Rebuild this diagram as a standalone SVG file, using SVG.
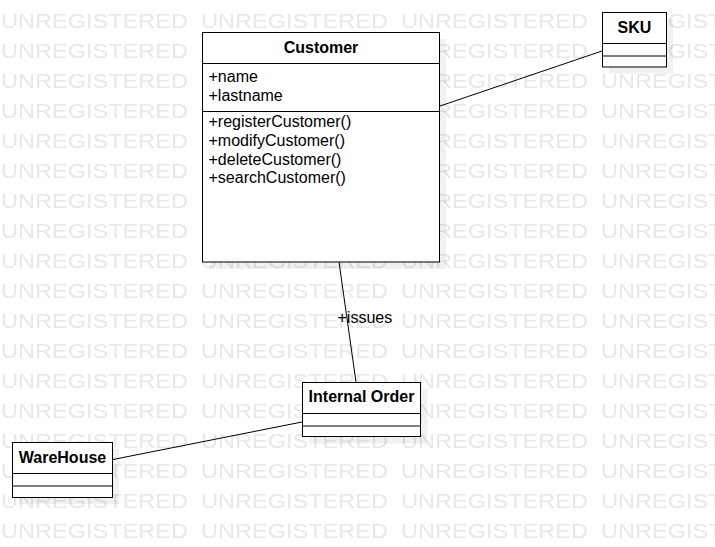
<svg xmlns="http://www.w3.org/2000/svg" width="715" height="547" viewBox="0 0 715 547">
<style>
.wm{font-family:"Liberation Sans",Arial,sans-serif;font-size:20.5px;fill:#e8e8e8}
.box{fill:#fff;stroke:#000;stroke-width:1}
.shadow{fill:#000;fill-opacity:0.055}
.div{stroke:#000;stroke-width:1}
.title{font-family:"Liberation Sans",Arial,sans-serif;font-size:16px;font-weight:bold;fill:#000;text-anchor:middle}
.mem{font-family:"Liberation Sans",Arial,sans-serif;font-size:16px;fill:#000}
.conn{stroke:#000;stroke-width:1;fill:none}
</style>
<defs>
<pattern id="wmPat" patternUnits="userSpaceOnUse" x="0" y="0" width="200" height="30">
<text class="wm" x="1" y="27.5" textLength="187" lengthAdjust="spacingAndGlyphs">UNREGISTERED</text>
</pattern>
</defs>
<rect width="715" height="547" fill="#fff"/>
<g id="watermark">
<rect width="715" height="547" fill="url(#wmPat)"/>
</g>
<g id="connectors">
<line class="conn" x1="440" y1="106" x2="602" y2="51"/>
<line class="conn" x1="339" y1="262" x2="356" y2="382"/>
<line class="conn" x1="113" y1="459.5" x2="302" y2="422"/>
<text class="mem" x="337.5" y="322.7">+issues</text>
</g>
<g id="customer">
<rect class="shadow" x="209" y="39" width="237" height="230"/>
<rect class="box" x="202.5" y="32.5" width="237" height="229.5"/>
<line class="div" x1="202.5" y1="63.5" x2="439.5" y2="63.5"/>
<line class="div" x1="202.5" y1="111.5" x2="439.5" y2="111.5"/>
<text class="title" x="321" y="53.3">Customer</text>
<text class="mem" x="208.5" y="82.3">+name</text>
<text class="mem" x="208.5" y="101">+lastname</text>
<text class="mem" x="208.5" y="127.3">+registerCustomer()</text>
<text class="mem" x="208.5" y="146">+modifyCustomer()</text>
<text class="mem" x="208.5" y="164.7">+deleteCustomer()</text>
<text class="mem" x="208.5" y="183.4">+searchCustomer()</text>
</g>
<g id="sku">
<rect class="shadow" x="609" y="19" width="64" height="54.5"/>
<rect class="box" x="602.5" y="12.5" width="64" height="54.5"/>
<line class="div" x1="602.5" y1="43.5" x2="666.5" y2="43.5"/>
<line class="div" x1="602.5" y1="56" x2="666.5" y2="56"/>
<text class="title" x="634.5" y="33.3">SKU</text>
</g>
<g id="internal-order">
<rect class="shadow" x="309" y="389" width="118.5" height="54.5"/>
<rect class="box" x="302.5" y="382.5" width="118" height="54"/>
<line class="div" x1="302.5" y1="413.5" x2="420.5" y2="413.5"/>
<line class="div" x1="302.5" y1="426" x2="420.5" y2="426"/>
<text class="title" x="361.5" y="402.3">Internal Order</text>
</g>
<g id="warehouse">
<rect class="shadow" x="19" y="449" width="100" height="55"/>
<rect class="box" x="12.5" y="442.5" width="100" height="55"/>
<line class="div" x1="12.5" y1="473.5" x2="112.5" y2="473.5"/>
<line class="div" x1="12.5" y1="486" x2="112.5" y2="486"/>
<text class="title" x="62.5" y="462.7">WareHouse</text>
</g>
</svg>
